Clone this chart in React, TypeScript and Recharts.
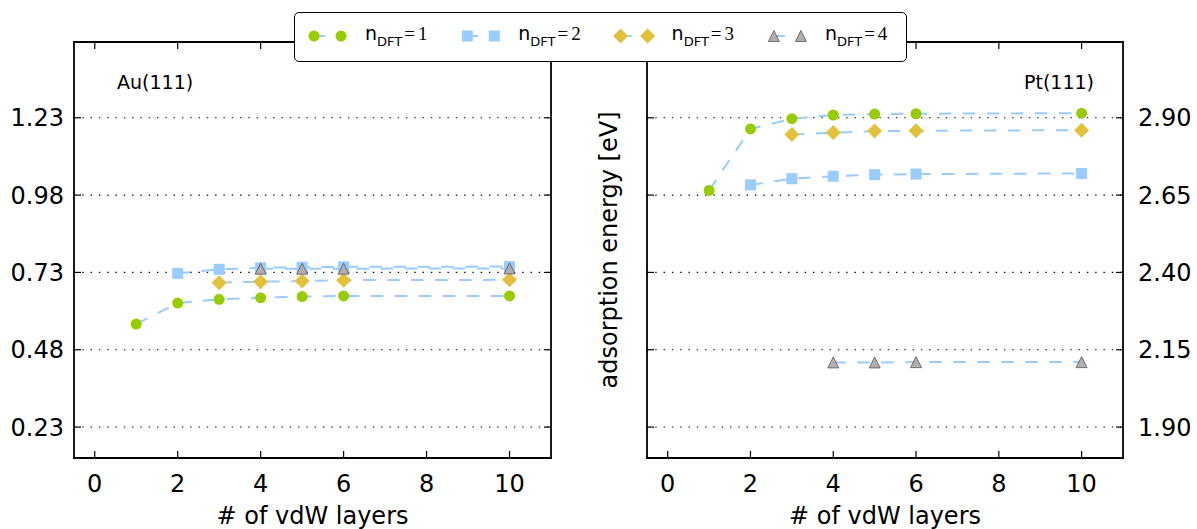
import React from 'react';
import { LineChart, Line, XAxis, YAxis, CartesianGrid } from 'recharts';

const FONT = '"DejaVu Sans", sans-serif';
const MATH = '"Liberation Serif", "DejaVu Serif", serif';

const GREEN = '#99cc00';
const BLUE = '#99ccff';
const GOLD = '#e3c13a';
const GREY = '#b3aeae';

// number of vdW layers used in each n_DFT run
const layersN1 = [1, 2, 3, 4, 5, 6, 10];
const layersN2 = [2, 3, 4, 5, 6, 10];
const layersN3 = [3, 4, 5, 6, 10];
const layersN4 = [4, 5, 6, 10];

// Au(111) adsorption energies [eV]
const auN1 = [0.563, 0.631, 0.643, 0.648, 0.652, 0.654, 0.654];
const auN2 = [0.727, 0.74, 0.745, 0.747, 0.748, 0.749];
const auN3 = [0.697, 0.7, 0.702, 0.705, 0.706];
const auN4 = [0.742, 0.742, 0.742, 0.743];

// Pt(111) adsorption energies [eV]
const ptN1 = [2.665, 2.864, 2.897, 2.909, 2.912, 2.913, 2.915];
const ptN2 = [2.683, 2.703, 2.711, 2.716, 2.718, 2.72];
const ptN3 = [2.846, 2.852, 2.857, 2.858, 2.86];
const ptN4 = [2.109, 2.109, 2.11, 2.11];

const xTicks = [0, 2, 4, 6, 8, 10];
const auTicks = [0.23, 0.48, 0.73, 0.98, 1.23];
const ptTicks = [1.9, 2.15, 2.4, 2.65, 2.9];
const nDft = [1, 2, 3, 4];

type Shape = 'circle' | 'square' | 'diamond' | 'triangle';
const shapes: Shape[] = ['circle', 'square', 'diamond', 'triangle'];

const toPoints = (xs: number[], ys: number[]) => xs.map((x, i) => ({ x, y: ys[i] }));

const auRuns = [toPoints(layersN1, auN1), toPoints(layersN2, auN2), toPoints(layersN3, auN3), toPoints(layersN4, auN4)];
const ptRuns = [toPoints(layersN1, ptN1), toPoints(layersN2, ptN2), toPoints(layersN3, ptN3), toPoints(layersN4, ptN4)];

const Marker = ({ shape, cx, cy }: { shape: Shape; cx: number; cy: number }) => {
  switch (shape) {
    case 'circle':
      return <circle cx={cx} cy={cy} r={5.5} fill={GREEN} />;
    case 'square':
      return <rect x={cx - 5.5} y={cy - 5.5} width={11} height={11} fill={BLUE} />;
    case 'diamond':
      return (
        <polygon
          points={`${cx},${cy - 7.5} ${cx + 7.5},${cy} ${cx},${cy + 7.5} ${cx - 7.5},${cy}`}
          fill={GOLD}
        />
      );
    default:
      return (
        <polygon
          points={`${cx},${cy - 5.5} ${cx + 5.5},${cy + 5.5} ${cx - 5.5},${cy + 5.5}`}
          fill={GREY}
          stroke="#555"
          strokeWidth={0.8}
        />
      );
  }
};

const AXIS = { stroke: '#000', strokeWidth: 1.8, strokeLinecap: 'square' as const };
const TICK = 7;
const tickText = { fontFamily: FONT, fontSize: 24, fill: '#000' };

// ticks point into the plot; labels sit outside
const bottomTick = ({ x, y, payload }: any) => (
  <g>
    <line x1={x} y1={y} x2={x} y2={y - TICK} stroke="#000" strokeWidth={1.2} />
    <text x={x} y={y + 34} textAnchor="middle" {...tickText}>{payload.value}</text>
  </g>
);
const topTick = ({ x, y }: any) => <line x1={x} y1={y} x2={x} y2={y + TICK} stroke="#000" strokeWidth={1.2} />;
const leftBare = ({ x, y }: any) => <line x1={x} y1={y} x2={x + TICK} y2={y} stroke="#000" strokeWidth={1.2} />;
const rightBare = ({ x, y }: any) => <line x1={x} y1={y} x2={x - TICK} y2={y} stroke="#000" strokeWidth={1.2} />;
const leftLabelled = (p: any) => (
  <g>
    {leftBare(p)}
    <text x={p.x - 10} y={p.y + 8.7} textAnchor="end" {...tickText}>{Number(p.payload.value).toFixed(2)}</text>
  </g>
);
const rightLabelled = (p: any) => (
  <g>
    {rightBare(p)}
    <text x={p.x + 15} y={p.y + 8.7} textAnchor="start" {...tickText}>{Number(p.payload.value).toFixed(2)}</text>
  </g>
);

const xTitle = ({ viewBox }: any) => (
  <text x={viewBox.x + viewBox.width / 2} y={viewBox.y + 66} textAnchor="middle" {...tickText}>
    # of vdW layers
  </text>
);

const yTitle = ({ viewBox }: any) => {
  const bx = viewBox.x + viewBox.width - 30;
  const cy = viewBox.y + viewBox.height / 2;
  return (
    <text x={bx} y={cy} transform={`rotate(-90 ${bx} ${cy})`} textAnchor="middle" {...tickText}>
      adsorption energy [eV]
    </text>
  );
};

const metalTitle = (name: string, onLeft: boolean) => ({ viewBox }: any) => {
  const y = viewBox.y + viewBox.height + 47;
  return onLeft ? (
    <text x={viewBox.x + 43} y={y} fontFamily={FONT} fontSize={19} fill="#000">{name}</text>
  ) : (
    <text x={viewBox.x + viewBox.width - 29} y={y} textAnchor="end" fontFamily={FONT} fontSize={19} fill="#000">
      {name}
    </text>
  );
};

interface PanelProps {
  left: number;
  width: number;
  name: string;
  yDomain: [number, number];
  yTicks: number[];
  runs: { x: number; y: number }[][];
  onLeft: boolean;
}

// hidden-side axes get 1px so they are still drawn (frame + inner ticks)
const Panel = ({ left, width, name, yDomain, yTicks, runs, onLeft }: PanelProps) => (
  <div style={{ position: 'absolute', left, top: 0 }}>
    <LineChart
      width={width}
      height={529}
      margin={{ top: 41, right: onLeft ? 48 : 0, bottom: 0, left: onLeft ? 0 : 69 }}
    >
      <CartesianGrid horizontal vertical={false} stroke="#000" strokeDasharray="1.4 6.9" strokeWidth={1.1} />
      <XAxis
        type="number"
        dataKey="x"
        domain={[-0.5, 11]}
        ticks={xTicks}
        interval={0}
        allowDataOverflow
        tickSize={0}
        tickMargin={0}
        height={71}
        axisLine={AXIS}
        tick={bottomTick}
        label={xTitle}
      />
      <XAxis
        xAxisId="top"
        orientation="top"
        type="number"
        dataKey="x"
        domain={[-0.5, 11]}
        ticks={xTicks}
        interval={0}
        allowDataOverflow
        tickSize={0}
        tickMargin={0}
        height={1}
        axisLine={AXIS}
        tick={topTick}
        label={metalTitle(name, onLeft)}
      />
      <YAxis
        type="number"
        domain={yDomain}
        ticks={yTicks}
        interval={0}
        allowDataOverflow
        tickSize={0}
        tickMargin={0}
        width={onLeft ? 74 : 1}
        axisLine={AXIS}
        tick={onLeft ? leftLabelled : leftBare}
        label={onLeft ? undefined : yTitle}
      />
      <YAxis
        yAxisId="r"
        orientation="right"
        type="number"
        domain={yDomain}
        ticks={yTicks}
        interval={0}
        allowDataOverflow
        tickSize={0}
        tickMargin={0}
        width={onLeft ? 1 : 74}
        axisLine={AXIS}
        tick={onLeft ? rightBare : rightLabelled}
      />
      {runs.map((pts, i) => (
        <Line
          key={shapes[i]}
          data={pts}
          dataKey="y"
          type="linear"
          stroke={BLUE}
          strokeWidth={2}
          strokeDasharray="12.5 11.5"
          isAnimationActive={false}
          activeDot={false}
          dot={(p: any) => <Marker key={`${shapes[i]}-${p.index}`} shape={shapes[i]} cx={p.cx} cy={p.cy} />}
        />
      ))}
    </LineChart>
  </div>
);

const LegendBox = () => {
  const w = 613;
  const h = 50;
  const b = 1.6;
  return (
    <div
      style={{
        position: 'absolute',
        left: 294,
        top: 12,
        width: w,
        height: h,
        boxSizing: 'border-box',
        border: `${b}px solid #000`,
        borderRadius: 5,
        background: '#fff',
        zIndex: 3,
      }}
    >
      <svg width={w} height={h} style={{ position: 'absolute', left: -b, top: -b }}>
        {nDft.map((n, i) => {
          const mx = 21 + i * 153.3;
          return (
            <g key={n}>
              <line x1={mx} y1={25} x2={mx + 27} y2={25} stroke={BLUE} strokeWidth={2} strokeDasharray="11 30" />
              <Marker shape={shapes[i]} cx={mx} cy={25} />
              <Marker shape={shapes[i]} cx={mx + 27} cy={25} />
              <text x={mx + 51} y={29} fontFamily={FONT} fontSize={19} fill="#000">
                <tspan>n</tspan>
                <tspan fontSize={13} dy={5.5}>DFT</tspan>
                <tspan dy={-5.5} dx={2} fontFamily={MATH}>=</tspan>
                <tspan dx={3} fontFamily={MATH}>{n}</tspan>
              </text>
            </g>
          );
        })}
      </svg>
    </div>
  );
};

export default function App() {
  return (
    <div style={{ position: 'absolute', left: 0, top: 0, width: 1197, height: 529, background: '#fff', overflow: 'hidden' }}>
      <Panel left={0} width={600} name="Au(111)" yDomain={[0.13, 1.475]} yTicks={auTicks} runs={auRuns} onLeft />
      <Panel left={577} width={620} name="Pt(111)" yDomain={[1.8, 3.145]} yTicks={ptTicks} runs={ptRuns} onLeft={false} />
      <LegendBox />
    </div>
  );
}
